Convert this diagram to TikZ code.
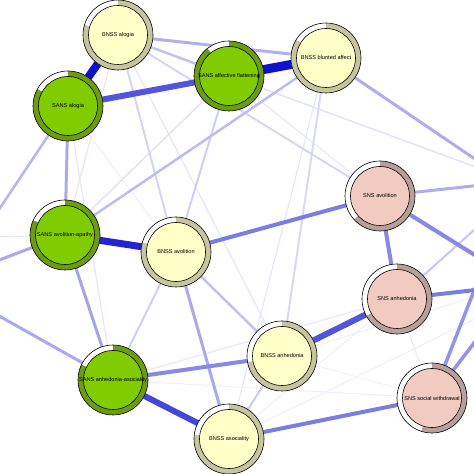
\documentclass[tikz,border=0pt]{standalone}
\usepackage{fontspec}
\setmainfont{Liberation Sans}
\definecolor{eblue}{HTML}{1010D0}
\definecolor{bnfill}{HTML}{FFFFC8}
\definecolor{bnring}{HTML}{C6C5A0}
\definecolor{safill}{HTML}{80CC00}
\definecolor{saring}{HTML}{6C9C14}
\definecolor{snfill}{HTML}{F1CAC1}
\definecolor{snring}{HTML}{B7A09A}
\pgfdeclarelayer{edges}
\pgfsetlayers{edges,main}

\begin{document}
\begin{tikzpicture}[
  x=1pt, y=1pt,
  every node/.style={inner sep=0pt, outer sep=0pt, text=black},
  item/.style={circle, minimum size=70pt, draw=black, line width=0.6pt,
               fill=white, font=\fontsize{5.6}{6}\selectfont},
  pie/.style n args={3}{item, path picture={
    \fill[#2] (path picture bounding box.center) -- ++(90:40)
      arc[start angle=90, end angle=#3-270, radius=40] -- cycle;
    \draw[fill=#1, line width=0.6pt] (path picture bounding box.center) circle (29.5);}},
]

\useasboundingbox (0,0) rectangle (474,474);

% ---------- items: name/x/y/fill/ring/unfilled angle/label ----------
\foreach \n/\x/\y/\fc/\rc/\w/\t in {
    ba/118/439/bnfill/bnring/73/BNSS alogia,
    sa/68/368/safill/saring/61/SANS alogia,
    sf/229/398/safill/saring/38/SANS affective flattening,
    bb/326/416/bnfill/bnring/59/BNSS blunted affect,
    nv/380/278/snfill/snring/132/SNS avolition,
    sv/65/239/safill/saring/65/SANS avolition-apathy,
    bv/176/222/bnfill/bnring/74/BNSS avolition,
    sh/113/94/safill/saring/64/SANS anhedonia-asociality,
    bs/229/35/bnfill/bnring/83/BNSS asociality,
    bh/282/118/bnfill/bnring/100/BNSS anhedonia,
    nh/397/175/snfill/snring/119/SNS anhedonia,
    nw/432/76/snfill/snring/162/SNS social withdrawal}{
  \node[pie={\fc}{\rc}{\w}] (\n) at (\x,\y) {\t};
}

% items that lie outside the cropped view
\coordinate (oA) at (-30,221);
\coordinate (oB) at (-40,199);
\coordinate (oC) at (-40,180);
\coordinate (oD) at (-40,236);
\coordinate (oE) at (500,298);
\coordinate (oF) at (510,292);
\coordinate (oG) at (510,197);
\coordinate (oH) at (510,188);
\coordinate (oI) at (490,224);
\coordinate (oJ) at (510,178);
\coordinate (oK) at (510,276);
\coordinate (oL) at (510,172);

% ---------- edges, weakest first ----------
\begin{pgfonlayer}{edges}
\foreach \a/\b/\w/\s in {
    bh/nw/1/6, sh/nw/1/7, bs/nh/1/7, sa/bv/1/7, bs/oL/1/7, bh/oH/1/7,
    nh/nw/1/9, sf/nv/1.2/9, sh/nh/1.2/9,
    bb/bs/1.2/10, ba/sv/1.2/10, sa/sh/1.2/10, ba/bh/1.2/10, sv/oD/1.2/10,
    sf/sv/1.5/12, sf/oE/1.5/12,
    bb/bh/2/16, ba/nv/2/17, ba/bv/2/18,
    sf/bv/2/20, bv/sh/2/20, bs/bh/2/22, nh/oK/2/24,
    ba/sf/2.5/26, bv/bh/2.5/26, bb/sv/2.5/28, sa/oA/2.5/30,
    ba/bb/3/33, bb/oE/3/34, nv/oF/3/34,
    sa/sv/3/36, bv/bs/3/36, sv/oB/3/36, sh/oC/3/36, sv/sh/3/38,
    nw/oI/3.5/45, nw/oJ/3.5/45,
    sh/bh/4/50, nv/nh/4/50, nv/oG/4/50,
    bv/nv/4/55, bs/nw/4/55, nh/oH/4/55,
    sa/sf/6/72, bh/nh/6/72, sh/bs/6/78,
    sv/bv/7/92, ba/sa/8/100, sf/bb/9/100}{
  \draw[draw=eblue!\s!white, line width=\w pt] (\a) -- (\b);
}
\end{pgfonlayer}

\end{tikzpicture}
\end{document}
